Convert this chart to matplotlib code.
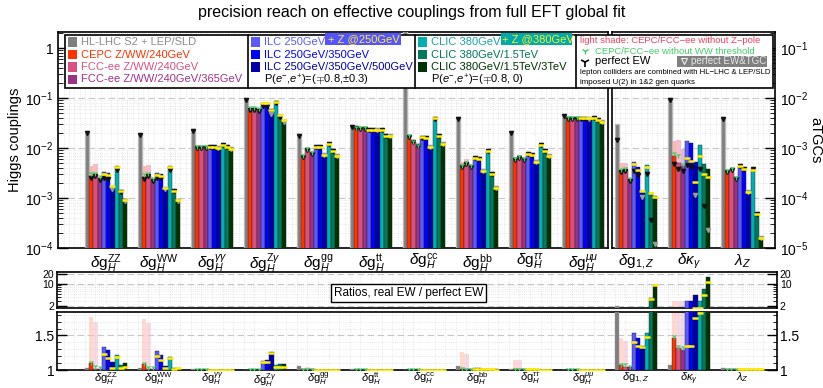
import numpy as np
import matplotlib
matplotlib.use('Agg')
import matplotlib.pyplot as plt
from matplotlib.patches import Rectangle
from matplotlib.lines import Line2D
from matplotlib.ticker import FixedLocator, NullFormatter, MultipleLocator, LogLocator

plt.rcParams['font.family'] = ['Liberation Sans', 'DejaVu Sans']
plt.rcParams['mathtext.fontset'] = 'custom'
plt.rcParams['mathtext.rm'] = 'Liberation Sans'
plt.rcParams['mathtext.it'] = 'Liberation Sans:italic'
plt.rcParams['mathtext.bf'] = 'Liberation Sans:bold'

# ---------------- data ----------------
group_labels = [r'$\delta\mathrm{g}_H^{\mathrm{ZZ}}$', r'$\delta\mathrm{g}_H^{\mathrm{WW}}$',
                r'$\delta\mathrm{g}_H^{\gamma\gamma}$', r'$\delta\mathrm{g}_H^{\mathrm{Z}\gamma}$',
                r'$\delta\mathrm{g}_H^{\mathrm{gg}}$', r'$\delta\mathrm{g}_H^{\mathrm{tt}}$',
                r'$\delta\mathrm{g}_H^{\mathrm{cc}}$', r'$\delta\mathrm{g}_H^{\mathrm{bb}}$',
                r'$\delta\mathrm{g}_H^{\tau\tau}$', r'$\delta\mathrm{g}_H^{\mu\mu}$',
                r'$\delta\mathrm{g}_{1,Z}$', r'$\delta\kappa_{\gamma}$', r'$\lambda_{Z}$']

colliders = ['HL-LHC S2 + LEP/SLD', 'CEPC Z/WW/240GeV', 'FCC-ee Z/WW/240GeV',
             'FCC-ee Z/WW/240GeV/365GeV', 'ILC 250GeV', 'ILC 250GeV/350GeV',
             'ILC 250GeV/350GeV/500GeV', 'CLIC 380GeV', 'CLIC 380GeV/1.5TeV',
             'CLIC 380GeV/1.5TeV/3TeV']

# precision reach (Higgs couplings: left axis; aTGCs: right axis)
precision = [
    [0.0200, 0.0028, 0.0028, 0.0023, 0.0033, 0.0031, 0.0017, 0.0044, 0.0014, 0.00095],
    [0.0188, 0.0026, 0.0028, 0.0022, 0.0032, 0.0030, 0.0016, 0.0044, 0.0014, 0.00091],
    [0.0226, 0.0102, 0.0102, 0.0101, 0.0104, 0.0104, 0.0100, 0.0115, 0.0105, 0.0096],
    [0.091, 0.057, 0.059, 0.056, 0.080, 0.078, 0.059, 0.084, 0.046, 0.036],
    [0.0188, 0.0067, 0.0094, 0.0078, 0.0103, 0.0103, 0.0072, 0.0120, 0.0088, 0.0069],
    [0.026, 0.0247, 0.0242, 0.0240, 0.0232, 0.0232, 0.0230, 0.0235, 0.0174, 0.0174],
    [3.0, 0.0169, 0.0130, 0.0110, 0.0163, 0.0156, 0.0106, 0.039, 0.0176, 0.0123],
    [0.041, 0.0042, 0.0049, 0.0042, 0.0065, 0.0062, 0.0036, 0.0087, 0.0030, 0.0016],
    [0.0204, 0.0058, 0.0064, 0.0058, 0.0075, 0.0073, 0.0053, 0.0118, 0.0087, 0.0071],
    [0.044, 0.039, 0.039, 0.039, 0.039, 0.039, 0.039, 0.040, 0.036, 0.033],
    [0.0030, 0.00035, 0.00036, 0.00023, 0.00053, 0.00042, 0.00014, 0.00046, 0.000128, 0.000109],
    [0.0098, 0.00069, 0.00051, 0.00044, 0.00138, 0.00124, 0.00053, 0.00115, 0.00048, 0.00038],
    [0.0039, 0.00034, 0.00036, 0.00024, 0.00044, 0.00038, 0.000134, 0.00038, 0.000048, 0.0000158],
]

# ratio real EW / perfect EW
ratio = [
    [1.025, 1.10, 1.02, 1.02, 1.34, 1.29, 1.11, 1.22, 1.07, 1.10],
    [1.03, 1.08, 1.02, 1.01, 1.27, 1.22, 1.06, 1.19, 1.03, 1.03],
    [1.01, 1.005, 1.005, 1.005, 1.005, 1.005, 1.005, 1.005, 1.005, 1.005],
    [1.005, 1.005, 1.005, 1.005, 1.13, 1.14, 1.26, 1.07, 1.08, 1.08],
    [1.06, 1.01, 1.01, 1.01, 1.005, 1.005, 1.005, 1.005, 1.005, 1.005],
    [1.01, 1.005, 1.005, 1.005, 1.005, 1.005, 1.005, 1.005, 1.005, 1.005],
    [1.005, 1.005, 1.005, 1.005, 1.005, 1.005, 1.005, 1.005, 1.005, 1.005],
    [1.06, 1.02, 1.02, 1.01, 1.03, 1.03, 1.02, 1.02, 1.01, 1.01],
    [1.02, 1.01, 1.01, 1.01, 1.01, 1.01, 1.01, 1.005, 1.005, 1.005],
    [1.005, 1.005, 1.005, 1.005, 1.005, 1.005, 1.005, 1.005, 1.005, 1.005],
    [2.05, 1.07, 1.05, 1.04, 1.53, 1.46, 1.35, 1.53, 3.6, 9.2],
    [1.07, 1.47, 1.32, 1.29, 3.0, 3.0, 4.56, 3.0, 6.95, 16.5],
    [1.03, 1.01, 1.01, 1.01, 1.02, 1.02, 1.01, 1.01, 1.01, 1.01],
]

# "+Z" runs for ILC / CLIC (6 scenarios): precision and ratio
plusZ = [
    [0.0030, 0.0029, 0.0017, 0.0042, 0.0014, 0.00093],
    [0.0029, 0.0028, 0.0016, 0.0042, 0.0014, 0.00090],
    [0.0104, 0.0104, 0.0100, 0.0114, 0.0105, 0.0096],
    [0.079, 0.078, 0.058, 0.083, 0.046, 0.036],
    [0.0103, 0.0103, 0.0071, 0.0119, 0.0087, 0.0068],
    [0.0232, 0.0232, 0.0229, 0.0234, 0.0173, 0.0173],
    [0.0163, 0.0156, 0.0105, 0.039, 0.0175, 0.0122],
    [0.0064, 0.0061, 0.0035, 0.0086, 0.0030, 0.0016],
    [0.0075, 0.0073, 0.0053, 0.0117, 0.0086, 0.0070],
    [0.039, 0.039, 0.039, 0.040, 0.036, 0.033],
    [0.00047, 0.00037, 0.000139, 0.00042, 0.000125, 0.000104],
    [0.00064, 0.00056, 0.00021, 0.00069, 0.00030, 0.00026],
    [0.00044, 0.00038, 0.00013, 0.00037, 0.000047, 0.0000155],
]
plusZ_ratio = [
    [1.23, 1.17, 1.03, 1.19, 1.03, 1.04],
    [1.20, 1.15, 1.03, 1.17, 1.02, 1.03],
    [1.005, 1.005, 1.005, 1.005, 1.005, 1.005],
    [1.11, 1.12, 1.25, 1.05, 1.04, 1.04],
    [1.005, 1.005, 1.005, 1.005, 1.005, 1.005],
    [1.005, 1.005, 1.005, 1.005, 1.005, 1.005],
    [1.005, 1.005, 1.005, 1.005, 1.005, 1.005],
    [1.02, 1.02, 1.01, 1.02, 1.01, 1.005],
    [1.01, 1.01, 1.01, 1.005, 1.005, 1.005],
    [1.005, 1.005, 1.005, 1.005, 1.005, 1.005],
    [1.40, 1.35, 1.33, 1.48, 3.5, 9.0],
    [1.35, 1.35, 1.75, 1.83, 4.56, 11.7],
    [1.01, 1.01, 1.01, 1.01, 1.01, 1.01],
]

# CEPC / FCC-ee(240) / FCC-ee(365) without WW threshold (green markers)
noWW = [
    [0.0031, 0.0031, 0.0027], [0.0030, 0.0031, 0.0025], [0.0110, 0.0110, 0.0108],
    [0.065, 0.066, 0.063], [0.0072, 0.0100, 0.0085], [0.026, 0.026, 0.026],
    [0.018, 0.0138, 0.0116], [0.0046, 0.0053, 0.0045], [0.0062, 0.0068, 0.0062],
    [0.041, 0.041, 0.041], [0.00038, 0.00039, 0.00025], [0.00078, 0.00072, 0.00047],
    [0.00037, 0.00039, 0.00026],
]
noWW_ratio = [
    [1.11, 1.06, 1.05], [1.10, 1.05, 1.04], [1.01, 1.01, 1.01], [1.01, 1.01, 1.01],
    [1.01, 1.01, 1.01], [1.01, 1.01, 1.01], [1.01, 1.01, 1.01], [1.03, 1.02, 1.02],
    [1.01, 1.01, 1.01], [1.01, 1.01, 1.01], [1.09, 1.08, 1.06], [1.49, 1.35, 1.33],
    [1.02, 1.02, 1.02],
]

# CEPC / FCC-ee without Z-pole (light shade)
noZ = [
    [0.0044, 0.0047, 0.0023], [0.0044, 0.0045, 0.0022], [0.0102, 0.0102, 0.0101],
    [0.057, 0.059, 0.056], [0.0067, 0.0099, 0.0078], [0.0247, 0.0242, 0.0240],
    [0.0169, 0.0130, 0.0110], [0.0053, 0.0060, 0.0042], [0.0066, 0.0072, 0.0058],
    [0.039, 0.039, 0.039], [0.00050, 0.00051, 0.00023], [0.00140, 0.00144, 0.00094],
    [0.00034, 0.00036, 0.00024],
]
noZ_ratio = [
    [1.77, 1.70, 1.02], [1.74, 1.68, 1.01], [1.0, 1.0, 1.0], [1.0, 1.0, 1.0],
    [1.0, 1.05, 1.0], [1.0, 1.0, 1.0], [1.0, 1.0, 1.0], [1.26, 1.23, 1.01],
    [1.14, 1.14, 1.01], [1.0, 1.0, 1.0], [1.46, 1.42, 1.04], [3.05, 3.0, 3.0],
    [1.0, 1.0, 1.0],
]

colors = ['#7f7f7f', '#ff3300', '#d9507f', '#993388', '#5a5aff', '#0000ff',
          '#0000aa', '#00b0b0', '#007a5a', '#003300']
text_colors = ['#8c8c8c', '#ff3300', '#d9507f', '#a03090', '#5a5aff', '#0000ff',
               '#0000aa', '#1aa5a5', '#007755', '#003300']
shade_colors = ['#ffb8a8', '#f4bccd', '#ddbbdd']

# ---------------- figure ----------------
W, H = 823, 388
fig = plt.figure(figsize=(W / 100, H / 100), dpi=100)


def fbox(x0, y0, x1, y1):
    return [x0 / W, 1 - y1 / H, (x1 - x0) / W, (y1 - y0) / H]


axL = fig.add_axes(fbox(58, 32, 608, 248))
axR = fig.add_axes(fbox(612, 32, 775, 248))
axM = fig.add_axes(fbox(57, 272, 777, 308))
axB = fig.add_axes(fbox(57, 312, 777, 370))

bw = 0.08
ngr = len(group_labels)


def xpos(g, i):
    return g + (i - 4.5) * bw


grid_major = dict(color='#c8c8c8', lw=0.8, ls=(0, (6, 3)))
grid_minor = dict(color='#d4d4d4', lw=0.5, ls=(0, (1, 2)))

# ---- top panels ----
for g in range(ngr):
    ax = axL if g < 10 else axR
    for j in range(3):
        ax.bar(xpos(g, j + 1), noZ[g][j], width=bw, bottom=1e-7,
               color=shade_colors[j], edgecolor='none', zorder=2)
    for i in range(10):
        v = precision[g][i]
        if i == 0:
            ax.bar(xpos(g, i), v, width=bw, bottom=1e-7, color=colors[i],
                   edgecolor='#b8b8b8', lw=0.9, zorder=3)
        else:
            ax.bar(xpos(g, i), v, width=bw, bottom=1e-7, color=colors[i],
                   edgecolor='#202020', lw=0.3, zorder=3)
        pe = v / ratio[g][i]
        mc = '#9a9a9a' if i in (6, 9) else '#111111'
        ax.plot(xpos(g, i), pe, marker='v', ms=3.0, color=mc, mec=mc, zorder=5)
    for j in range(3):
        ax.plot(xpos(g, j + 1), noWW[g][j], marker='1', ms=4, mew=0.9,
                color='#44cc66', zorder=6)
    for j in range(6):
        ax.plot(xpos(g, j + 4), plusZ[g][j], marker='_', ms=4.2, mew=1.8,
                color='#ffee00', zorder=6)

for ax in (axL, axR):
    ax.set_yscale('log')
    ax.yaxis.set_minor_locator(LogLocator(base=10, subs=np.arange(2, 10)))
    ax.yaxis.set_minor_formatter(NullFormatter())
    ax.xaxis.set_minor_locator(MultipleLocator(0.1))
    ax.grid(True, which='major', axis='y', **grid_major)
    ax.grid(True, which='minor', axis='y', **grid_minor)
    ax.grid(True, which='minor', axis='x', **grid_minor)
    ax.set_axisbelow(True)
    ax.tick_params(axis='x', which='both', length=0, labelsize=11, pad=3)
    ax.tick_params(axis='y', which='major', direction='in', length=7, width=1.0,
                   labelsize=10)
    ax.tick_params(axis='y', which='minor', direction='in', length=3.5, width=0.6)
    for s in ax.spines.values():
        s.set_linewidth(1.2)

axL.set_ylim(1e-4, 2.09)
axL.set_xlim(-0.906, 9.47)
axL.yaxis.set_major_locator(FixedLocator([1e-4, 1e-3, 1e-2, 1e-1, 1]))
axL.set_yticklabels([r'$10^{-4}$', r'$10^{-3}$', r'$10^{-2}$', r'$10^{-1}$', '1'])
axL.set_xticks(range(10))
axL.set_xticklabels(group_labels[:10])

axR.set_ylim(1e-5, 0.209)
axR.set_xlim(9.547, 12.62)
axR.yaxis.tick_right()
axR.yaxis.set_major_locator(FixedLocator([1e-5, 1e-4, 1e-3, 1e-2, 1e-1]))
axR.set_yticklabels([r'$10^{-5}$', r'$10^{-4}$', r'$10^{-3}$', r'$10^{-2}$', r'$10^{-1}$'])
axR.set_xticks([10, 11, 12])
axR.set_xticklabels(group_labels[10:])

# ---- ratio panels ----
for ax in (axM, axB):
    for g in range(ngr):
        for j in range(3):
            ax.bar(xpos(g, j + 1), noZ_ratio[g][j] - 1, width=bw, bottom=1,
                   color=shade_colors[j], alpha=0.55, edgecolor='none', zorder=2)
        for i in range(10):
            r = ratio[g][i]
            ax.bar(xpos(g, i), r - 1, width=bw, bottom=1, color=colors[i],
                   edgecolor='#202020' if i else '#9a9a9a', lw=0.3, zorder=3)
        for j in range(3):
            ax.plot(xpos(g, j + 1), noWW_ratio[g][j], marker='1', ms=4, mew=0.9,
                    color='#44cc66', zorder=6)
        for j in range(6):
            ax.plot(xpos(g, j + 4), plusZ_ratio[g][j], marker='_', ms=4.2, mew=1.8,
                    color='#ffee00', zorder=6)
    ax.set_xlim(-0.925, 12.66)
    ax.xaxis.set_minor_locator(MultipleLocator(0.2))
    ax.grid(True, which='minor', axis='x', **grid_minor)
    ax.set_axisbelow(True)
    for s in ax.spines.values():
        s.set_linewidth(1.2)
    ax.tick_params(axis='x', which='both', length=0)
    ax.tick_params(axis='y', which='both', direction='in', left=True, right=True,
                   labelleft=True, labelright=True)

axM.set_yscale('log')
axM.set_ylim(1.79, 23.5)
axM.yaxis.set_major_locator(FixedLocator([2, 10, 20]))
axM.set_yticklabels(['2', '10', '20'])
axM.yaxis.set_minor_locator(FixedLocator([3, 4, 5, 6, 7, 8, 9]))
axM.yaxis.set_minor_formatter(NullFormatter())
axM.grid(True, which='major', axis='y', **grid_major)
axM.grid(True, which='minor', axis='y', **grid_minor)
axM.tick_params(axis='y', which='major', length=7, width=1.0, labelsize=7.5, pad=2)
axM.tick_params(axis='y', which='minor', length=3, width=0.6)
axM.set_xticks([])
axM.text(0.488, 0.42, 'Ratios, real EW / perfect EW', transform=axM.transAxes,
         ha='center', va='center', fontsize=8.5, zorder=10,
         bbox=dict(boxstyle='square,pad=0.25', fc='white', ec='black', lw=1.0))

axB.set_ylim(1.0, 1.84)
axB.yaxis.set_major_locator(FixedLocator([1.0, 1.5]))
axB.set_yticklabels(['1', '1.5'])
axB.yaxis.set_minor_locator(MultipleLocator(0.1))
axB.grid(True, which='major', axis='y', **grid_major)
axB.grid(True, which='minor', axis='y', **grid_minor)
axB.tick_params(axis='y', which='major', length=7, width=1.0, labelsize=10, pad=2)
axB.tick_params(axis='y', which='minor', length=3, width=0.6)
axB.set_xticks(range(ngr))
axB.set_xticklabels(group_labels, fontsize=8)
axB.tick_params(axis='x', pad=0.5)

# ---- titles & axis labels ----
fig.text(0.5, 1 - 12 / H, 'precision reach on effective couplings from full EFT global fit',
         ha='center', va='center', fontsize=11.5)
fig.text(15 / W, 1 - 140 / H, 'Higgs couplings', rotation=90, ha='center', va='center',
         fontsize=10.5)
fig.text(815 / W, 1 - 140 / H, 'aTGCs', rotation=270, ha='center', va='center',
         fontsize=10.5)

# ---- legend (drawn in pixel coordinates) ----


def fx(x):
    return x / W


def fy(y):
    return 1 - y / H


def rect_px(x0, y0, x1, y1, **kw):
    fig.add_artist(Rectangle((fx(x0), fy(y1)), (x1 - x0) / W, (y1 - y0) / H,
                             transform=fig.transFigure, **kw))


def vline_px(x, y0, y1, **kw):
    fig.add_artist(Line2D([fx(x), fx(x)], [fy(y0), fy(y1)], transform=fig.transFigure, **kw))


rect_px(65, 35, 773, 88, fc='white', ec='black', lw=1.2, zorder=20)
for xd in (248, 415, 576):
    vline_px(xd, 35, 88, color='black', lw=1.2, zorder=21)

rows = [42, 54.5, 67, 79.5]
for k in range(4):
    rect_px(68, rows[k] - 4.5, 77, rows[k] + 4.5, fc=colors[k], ec='none', zorder=22)
    fig.text(fx(81), fy(rows[k]), colliders[k], color=text_colors[k], fontsize=8,
             va='center', ha='left', zorder=22)
for k in range(3):
    rect_px(251, rows[k] - 4.5, 260, rows[k] + 4.5, fc=colors[4 + k], ec='none', zorder=22)
    fig.text(fx(264), fy(rows[k]), colliders[4 + k], color=text_colors[4 + k], fontsize=8,
             va='center', ha='left', zorder=22)
    rect_px(418, rows[k] - 4.5, 427, rows[k] + 4.5, fc=colors[7 + k], ec='none', zorder=22)
    fig.text(fx(431), fy(rows[k]), colliders[7 + k], color=text_colors[7 + k], fontsize=8,
             va='center', ha='left', zorder=22)
fig.text(fx(264), fy(rows[3]), r'P($e^{-}$,$e^{+}$)=($\mp$0.8,$\pm$0.3)', fontsize=8,
         va='center', ha='left', zorder=22)
fig.text(fx(431), fy(rows[3]), r'P($e^{-}$,$e^{+}$)=($\mp$0.8, 0)', fontsize=8,
         va='center', ha='left', zorder=22)

rect_px(325, 33, 401, 45, fc='#5555ff', ec='none', zorder=23)
fig.text(fx(328), fy(39.5), '+ Z @250GeV', color='#ffee22', fontsize=8, va='center',
         ha='left', zorder=24)
rect_px(501, 33, 572, 45, fc='#00aaaa', ec='none', zorder=23)
fig.text(fx(502), fy(39.5), '+ Z @380GeV', color='#ffee22', fontsize=8, va='center',
         ha='left', zorder=24)

fig.text(fx(580), fy(40.5), 'light shade: CEPC/FCC−ee without Z−pole', color='#f04060',
         fontsize=6.8, va='center', ha='left', zorder=22)
fig.add_artist(Line2D([fx(585)], [fy(51)], marker='1', ms=5, mew=1.0, color='#44cc66',
                      transform=fig.transFigure, zorder=22))
fig.text(fx(595), fy(51), 'CEPC/FCC−ee without WW threshold', color='#44cc66',
         fontsize=6.8, va='center', ha='left', zorder=22)
fig.add_artist(Line2D([fx(585)], [fy(61.5)], marker='1', ms=7, mew=1.2, color='black',
                      transform=fig.transFigure, zorder=22))
fig.text(fx(595), fy(61.5), 'perfect EW', color='black', fontsize=8, va='center',
         ha='left', zorder=22)
rect_px(677, 56, 767, 67, fc='#808080', ec='none', zorder=22)
fig.add_artist(Line2D([fx(684)], [fy(61)], marker='v', ms=4, mew=0.8, mfc='none',
                      mec='#eeeeee', transform=fig.transFigure, zorder=23))
fig.text(fx(691), fy(61.5), 'perfect EW&TGC', color='#e8e8e8', fontsize=7,
         va='center', ha='left', zorder=23)
fig.text(fx(580), fy(72), 'lepton colliders are combined with HL−LHC & LEP/SLD',
         color='black', fontsize=5.6, va='center', ha='left', zorder=22)
fig.text(fx(580), fy(82.5), 'imposed U(2) in 1&2 gen quarks', color='black',
         fontsize=5.8, va='center', ha='left', zorder=22)

fig.savefig('out.png', dpi=100)
